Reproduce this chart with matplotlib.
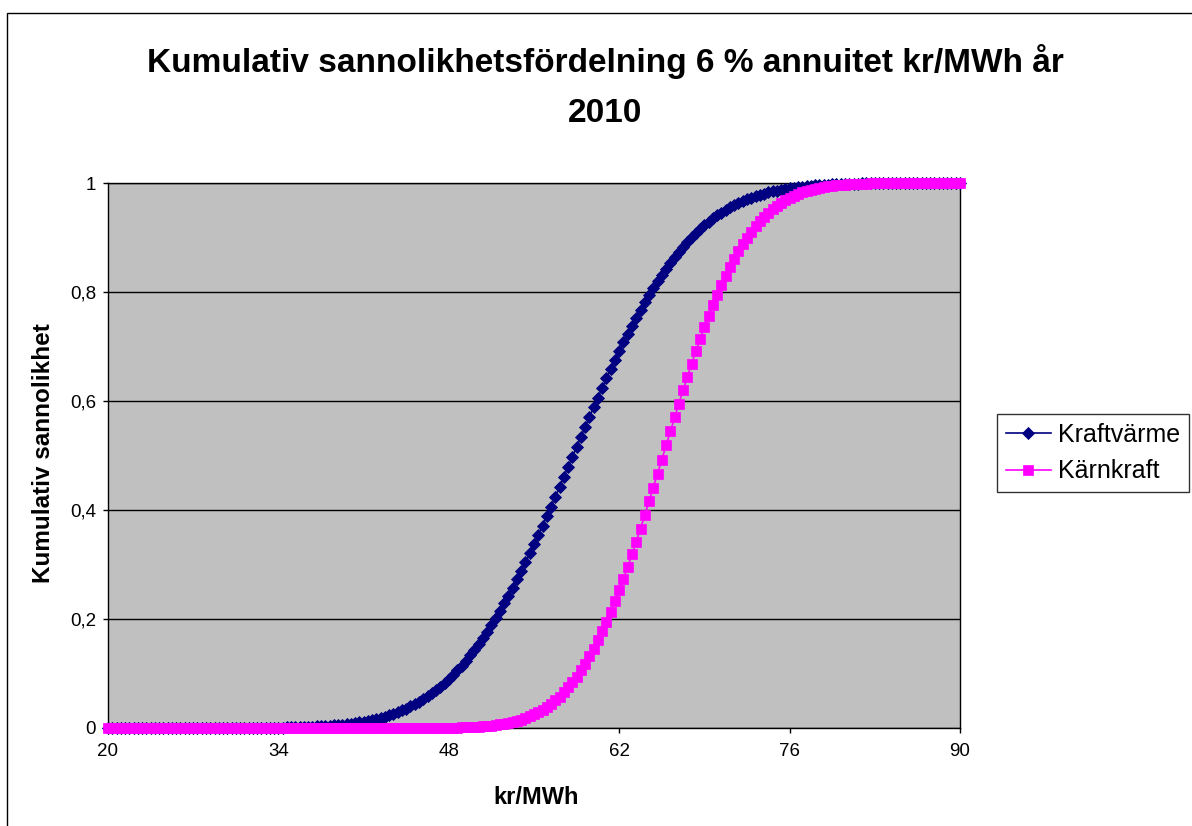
import numpy as np
import matplotlib
matplotlib.use("Agg")
import matplotlib.pyplot as plt
from matplotlib.patches import Rectangle

plt.rcParams['font.family'] = ['Liberation Sans', 'DejaVu Sans']

# --- data (kr/MWh categories, 201 of them) ---
kr_mwh = np.linspace(20, 90, 201)

# Kraftvärme, cumulative probability
kraftvarme = [
    # 20.00 - 32.95
    0, 0, 0, 0, 0, 0, 0, 0, 0, 0, 0, 0, 0, 0, 0, 0, 0, 0, 0,
    0, 0, 0, 0, 0, 0, 0, 0, 0, 0, 0, 0, 0, 0, 0, 0, 0, 0, 0,
    # 33.30 -
    0.0005, 0.0006, 0.0007, 0.0009, 0.0010, 0.0012, 0.0013, 0.0016, 0.0018, 0.0021,
    0.0024, 0.0028, 0.0032, 0.0037, 0.0042, 0.0049, 0.0056, 0.0063, 0.0072, 0.0082,
    0.0093, 0.0105, 0.0118, 0.0133, 0.0150, 0.0168, 0.0188, 0.0210, 0.0235, 0.0261,
    0.0290, 0.0322, 0.0357, 0.0395, 0.0435, 0.0480, 0.0528, 0.0580, 0.0635, 0.0694,
    0.0758, 0.0826, 0.0898, 0.0975, 0.1056, 0.1143, 0.1237, 0.1332, 0.1432, 0.1539,
    0.1653, 0.1770, 0.1890, 0.2016, 0.2150, 0.2287, 0.2430, 0.2577, 0.2727, 0.2881,
    0.3040, 0.3203, 0.3369, 0.3538, 0.3711, 0.3886, 0.4064, 0.4243, 0.4424, 0.4606,
    0.4789, 0.4974, 0.5157, 0.5341, 0.5524, 0.5705, 0.5886, 0.6064, 0.6240, 0.6413,
    0.6583, 0.6750, 0.6915, 0.7075, 0.7231, 0.7383, 0.7531, 0.7673, 0.7812, 0.7945,
    0.8073, 0.8197, 0.8317, 0.8430, 0.8538, 0.8641, 0.8738, 0.8832, 0.8920, 0.9002,
    0.9081, 0.9154, 0.9223, 0.9288, 0.9349, 0.9405, 0.9458, 0.9506, 0.9552, 0.9594,
    0.9632, 0.9668, 0.9701, 0.9731, 0.9758, 0.9783, 0.9806, 0.9827, 0.9845, 0.9862,
    0.9878, 0.9892, 0.9904, 0.9915, 0.9925, 0.9934, 0.9942, 0.9949, 0.9956, 0.9961,
    0.9966, 0.9971, 0.9975, 0.9978, 0.9981, 0.9984, 0.9986, 0.9988, 0.9990, 0.9991,
    0.9992, 0.9994, 0.9995,
    # 83.35 - 90.00
    1, 1, 1, 1, 1, 1, 1, 1, 1, 1, 1, 1, 1, 1, 1, 1, 1, 1, 1, 1,
]

# Kärnkraft, cumulative probability
karnkraft = [
    # 20.00 - 47.30
    0, 0, 0, 0, 0, 0, 0, 0, 0, 0, 0, 0, 0, 0, 0, 0, 0, 0, 0,
    0, 0, 0, 0, 0, 0, 0, 0, 0, 0, 0, 0, 0, 0, 0, 0, 0, 0, 0,
    0, 0, 0, 0, 0, 0, 0, 0, 0, 0, 0, 0, 0, 0, 0, 0, 0, 0, 0,
    0, 0, 0, 0, 0, 0, 0, 0, 0, 0, 0, 0, 0, 0, 0, 0, 0, 0, 0,
    0, 0, 0,
    # 47.65 -
    0.0004, 0.0006, 0.0007, 0.0009, 0.0011, 0.0013, 0.0017, 0.0021, 0.0025, 0.0031,
    0.0037, 0.0045, 0.0055, 0.0066, 0.0078, 0.0093, 0.0111, 0.0131, 0.0155, 0.0182,
    0.0213, 0.0248, 0.0288, 0.0334, 0.0385, 0.0442, 0.0506, 0.0577, 0.0656, 0.0744,
    0.0838, 0.0943, 0.1056, 0.1180, 0.1314, 0.1456, 0.1609, 0.1773, 0.1946, 0.2130,
    0.2324, 0.2524, 0.2736, 0.2956, 0.3185, 0.3420, 0.3658, 0.3905, 0.4157, 0.4412,
    0.4669, 0.4926, 0.5184, 0.5442, 0.5698, 0.5951, 0.6201, 0.6444, 0.6682, 0.6915,
    0.7139, 0.7356, 0.7563, 0.7761, 0.7950, 0.8130, 0.8299, 0.8458, 0.8606, 0.8745,
    0.8874, 0.8994, 0.9103, 0.9203, 0.9295, 0.9379, 0.9454, 0.9522, 0.9583, 0.9638,
    0.9686, 0.9730, 0.9768, 0.9801, 0.9830, 0.9856, 0.9878, 0.9897, 0.9913, 0.9927,
    0.9939, 0.9950, 0.9958, 0.9966, 0.9972, 0.9977, 0.9981, 0.9985, 0.9988, 0.9990,
    0.9992, 0.9994, 0.9995,
    # 83.70 - 90.00
    1, 1, 1, 1, 1, 1, 1, 1, 1, 1, 1, 1, 1, 1, 1, 1, 1, 1, 1,
]

x_ticks = [20, 34, 48, 62, 76, 90]
x_labels = ['20', '34', '48', '62', '76', '90']
y_ticks = [0, 0.2, 0.4, 0.6, 0.8, 1.0]
y_labels = ['0', '0,2', '0,4', '0,6', '0,8', '1']

W, H = 1192, 826
fig = plt.figure(figsize=(W / 100, H / 100), dpi=100)
ax = fig.add_axes([108 / W, 1 - 728 / H, (960 - 108) / W, (728 - 183) / H])
ax.set_facecolor('#C0C0C0')

ax.plot(kr_mwh, kraftvarme, color='#000080', lw=1.2, marker='D', ms=6.6,
        mec='#000080', mew=0.6, clip_on=False, zorder=3, label='Kraftvärme')
ax.plot(kr_mwh, karnkraft, color='#FF00FF', lw=1.2, marker='s', ms=7.2,
        mec='#FF00FF', mew=0.5, clip_on=False, zorder=4, label='Kärnkraft')

ax.set_xlim(20, 90)
ax.set_ylim(0, 1)
ax.set_xticks(x_ticks)
ax.set_xticklabels(x_labels)
ax.set_yticks(y_ticks)
ax.set_yticklabels(y_labels)
ax.yaxis.grid(True, color='black', lw=1)
ax.set_axisbelow(True)
ax.tick_params(axis='both', direction='out', length=3.6, width=1,
               labelsize=13.5, colors='black')
ax.tick_params(axis='x', pad=7.5)
ax.tick_params(axis='y', pad=5)
for s in ax.spines.values():
    s.set_color('black')
    s.set_linewidth(1)

# titles
fig.text(605 / W, 1 - 72 / H, 'Kumulativ sannolikhetsfördelning 6 % annuitet kr/MWh år',
         ha='center', va='baseline', fontsize=24, fontweight='bold')
fig.text(605 / W, 1 - 122 / H, '2010', ha='center', va='baseline',
         fontsize=24, fontweight='bold')
fig.text(536 / W, 1 - 804 / H, 'kr/MWh', ha='center', va='baseline',
         fontsize=17, fontweight='bold')
fig.text(43 / W, 1 - 453 / H, 'Kumulativ sannolikhet', ha='center', va='center',
         rotation=90, fontsize=17.5, fontweight='bold')

leg = fig.legend(loc='upper left', bbox_to_anchor=(997 / W, 1 - 414 / H),
                 fontsize=18, frameon=True, fancybox=False, borderaxespad=0,
                 handlelength=1.8, handletextpad=0.3, borderpad=0.35,
                 labelspacing=0.5)
leg.get_frame().set_edgecolor('black')
leg.get_frame().set_linewidth(1)

# chart area border (cut off at right and bottom)
fig.add_artist(Rectangle((7 / W, -0.05), 1.2, 1 - 13 / H + 0.05,
                         transform=fig.transFigure, fill=False,
                         ec='black', lw=1))

fig.savefig('out.png', dpi=100)
